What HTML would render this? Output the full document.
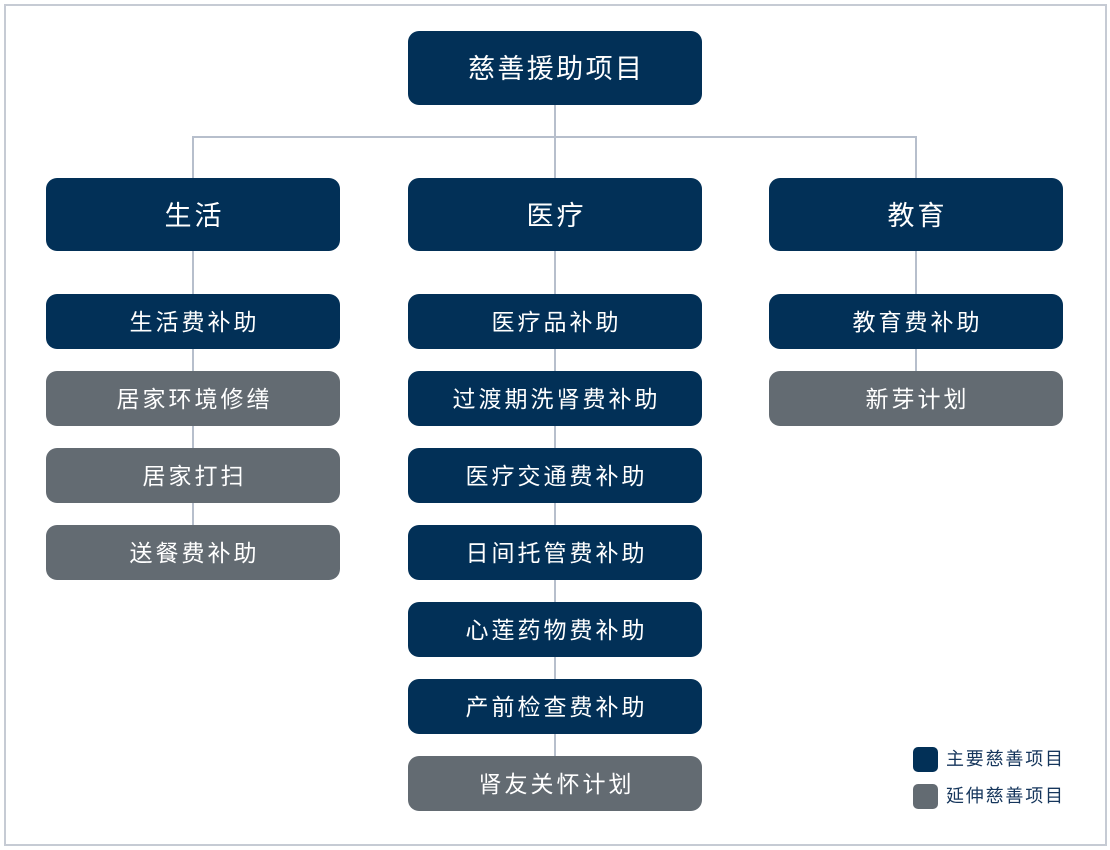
<!DOCTYPE html>
<html>
<head>
<meta charset="utf-8">
<style>
  html,body{margin:0;padding:0;background:#fff;}
  body{width:1110px;height:850px;position:relative;overflow:hidden;
       font-family:"Liberation Sans","Noto Sans CJK SC",sans-serif;}
  .frame{position:absolute;left:4px;top:4px;width:1099px;height:838px;border:2px solid #c6cbd4;}
  .ln{position:absolute;background:#b7bfcc;}
  .b{position:absolute;border-radius:11px;color:#fff;display:flex;align-items:center;justify-content:center;
     white-space:nowrap;box-sizing:border-box;}
  .n{background:#023057;}
  .g{background:#636b72;}
  .l0{font-size:27px;letter-spacing:2.4px;padding-left:2.4px;padding-bottom:3px;}
  .l1{font-size:27px;letter-spacing:3px;padding-left:3px;padding-bottom:3px;}
  .l2{font-size:23px;letter-spacing:3px;padding-left:3px;padding-bottom:4px;}
  .sq{position:absolute;width:25px;height:25px;border-radius:5px;}
  .lt{position:absolute;font-size:18px;letter-spacing:1.8px;color:#16365c;line-height:25px;}
</style>
</head>
<body>
<div class="frame"></div>

<!-- connectors -->
<div class="ln" style="left:554px;top:105px;width:2px;height:73px;"></div>
<div class="ln" style="left:192px;top:136px;width:725px;height:2px;"></div>
<div class="ln" style="left:192px;top:136px;width:2px;height:42px;"></div>
<div class="ln" style="left:915px;top:136px;width:2px;height:42px;"></div>
<div class="ln" style="left:192px;top:251px;width:2px;height:280px;"></div>
<div class="ln" style="left:554px;top:251px;width:2px;height:510px;"></div>
<div class="ln" style="left:915px;top:251px;width:2px;height:125px;"></div>

<!-- root -->
<div class="b n l0" style="left:408px;top:31px;width:294px;height:74px;">慈善援助项目</div>

<!-- level 1 -->
<div class="b n l1" style="left:46px;top:178px;width:294px;height:73px;">生活</div>
<div class="b n l1" style="left:408px;top:178px;width:294px;height:73px;">医疗</div>
<div class="b n l1" style="left:769px;top:178px;width:294px;height:73px;">教育</div>

<!-- 生活 column -->
<div class="b n l2" style="left:46px;top:294px;width:294px;height:55px;">生活费补助</div>
<div class="b g l2" style="left:46px;top:371px;width:294px;height:55px;">居家环境修缮</div>
<div class="b g l2" style="left:46px;top:448px;width:294px;height:55px;">居家打扫</div>
<div class="b g l2" style="left:46px;top:525px;width:294px;height:55px;">送餐费补助</div>

<!-- 医疗 column -->
<div class="b n l2" style="left:408px;top:294px;width:294px;height:55px;">医疗品补助</div>
<div class="b n l2" style="left:408px;top:371px;width:294px;height:55px;">过渡期洗肾费补助</div>
<div class="b n l2" style="left:408px;top:448px;width:294px;height:55px;">医疗交通费补助</div>
<div class="b n l2" style="left:408px;top:525px;width:294px;height:55px;">日间托管费补助</div>
<div class="b n l2" style="left:408px;top:602px;width:294px;height:55px;">心莲药物费补助</div>
<div class="b n l2" style="left:408px;top:679px;width:294px;height:55px;">产前检查费补助</div>
<div class="b g l2" style="left:408px;top:756px;width:294px;height:55px;">肾友关怀计划</div>

<!-- 教育 column -->
<div class="b n l2" style="left:769px;top:294px;width:294px;height:55px;">教育费补助</div>
<div class="b g l2" style="left:769px;top:371px;width:294px;height:55px;">新芽计划</div>

<!-- legend -->
<div class="sq" style="left:913px;top:747px;background:#023057;"></div>
<div class="lt" style="left:946px;top:747px;">主要慈善项目</div>
<div class="sq" style="left:913px;top:784px;background:#636b72;"></div>
<div class="lt" style="left:946px;top:784px;">延伸慈善项目</div>
</body>
</html>
